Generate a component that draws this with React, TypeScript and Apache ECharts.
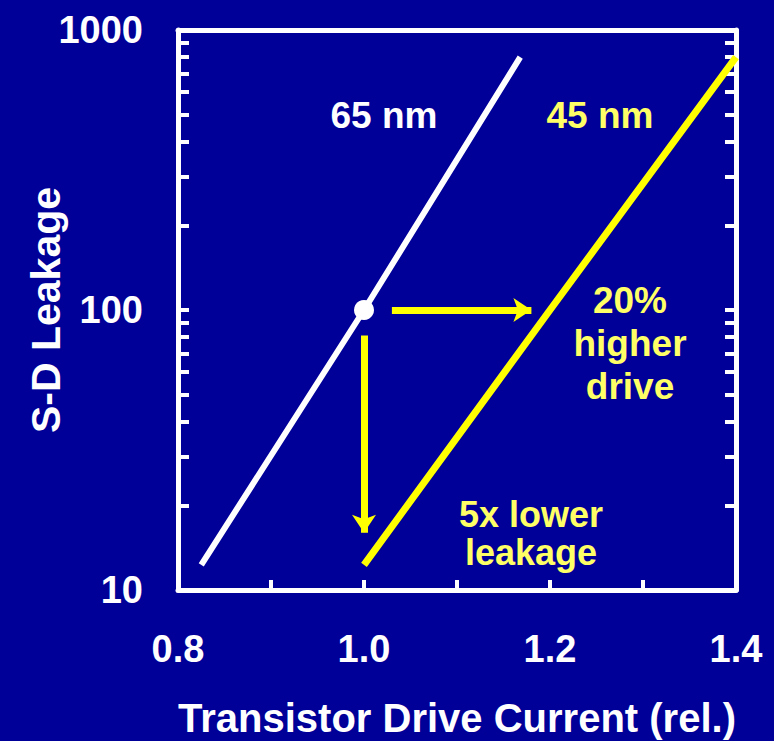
import React, { useEffect, useRef } from "react";
import * as echarts from "echarts";

// ---- data ----
const node65: [number, number][] = [
  [0.825, 12.3],
  [1.0, 100],
  [1.168, 800],
];
const node45: [number, number][] = [
  [1.0, 12.3],
  [1.2, 100],
  [1.4, 800],
];
const referencePoint: [number, number][] = [[1.0, 100]];
const driveArrow: [number, number][] = [
  [1.03, 100],
  [1.18, 100],
];
const leakageArrow: [number, number][] = [
  [1.0, 81],
  [1.0, 16],
];
const yTickValues = [
  10, 20, 30, 40, 50, 60, 70, 80, 90, 100, 200, 300, 400, 500, 600, 700, 800, 900, 1000,
];
const yLabelValues = [10, 100, 1000];
const xTickValues = [0.9, 1.0, 1.1, 1.2, 1.3];
const xLabelValues = [0.8, 1.0, 1.2, 1.4];

const FONT = "'Liberation Sans', Arial, sans-serif";
const BG = "#000099";
const WHITE = "#ffffff";
const YELLOW = "#ffff00";
const PALE_YELLOW = "#ffff66";

export default function App() {
  const ref = useRef<HTMLDivElement>(null);

  useEffect(() => {
    document.body.style.margin = "0";
    const chart = echarts.init(ref.current!, null, { renderer: "svg" });
    const axisLine = { show: true, lineStyle: { color: WHITE, width: 5 } };
    const tickStyle = { color: WHITE, width: 4 };
    chart.setOption({
      animation: false,
      backgroundColor: BG,
      grid: {
        left: 178,
        right: 38,
        top: 30,
        bottom: 151,
        containLabel: false,
        outerBoundsMode: "none",
      },
      xAxis: [
        {
          type: "value",
          min: 0.8,
          max: 1.4,
          interval: 0.1,
          axisLine,
          splitLine: { show: false },
          axisTick: {
            show: true,
            inside: true,
            length: 10,
            lineStyle: tickStyle,
            customValues: xTickValues,
          },
          axisLabel: {
            color: WHITE,
            fontFamily: FONT,
            fontSize: 38,
            fontWeight: "bold",
            margin: 40,
            customValues: xLabelValues,
            formatter: (v: number) => v.toFixed(1),
          },
          name: "Transistor Drive Current (rel.)",
          nameLocation: "middle",
          nameGap: 108,
          nameMoveOverlap: false,
          nameTextStyle: {
            color: WHITE,
            fontFamily: FONT,
            fontSize: 40,
            fontWeight: "bold",
          },
        },
        {
          type: "value",
          position: "top",
          min: 0.8,
          max: 1.4,
          axisLine,
          axisTick: { show: false },
          axisLabel: { show: false },
          splitLine: { show: false },
        },
      ],
      yAxis: [
        {
          type: "log",
          logBase: 10,
          min: 10,
          max: 1000,
          axisLine,
          splitLine: { show: false },
          minorTick: { show: false },
          axisTick: {
            show: true,
            inside: true,
            length: 11,
            lineStyle: tickStyle,
            customValues: yTickValues,
          },
          axisLabel: {
            color: WHITE,
            fontFamily: FONT,
            fontSize: 38,
            fontWeight: "bold",
            margin: 35,
            customValues: yLabelValues,
            formatter: (v: number) => String(Math.round(v)),
          },
          name: "S-D Leakage",
          nameLocation: "middle",
          nameGap: 112,
          nameMoveOverlap: false,
          nameTextStyle: {
            color: WHITE,
            fontFamily: FONT,
            fontSize: 41,
            fontWeight: "bold",
          },
        },
        {
          type: "log",
          logBase: 10,
          min: 10,
          max: 1000,
          position: "right",
          axisLine,
          splitLine: { show: false },
          axisTick: {
            show: true,
            inside: true,
            length: 11,
            lineStyle: tickStyle,
            customValues: yTickValues,
          },
          axisLabel: { show: false },
        },
      ],
      series: [
        {
          name: "65 nm",
          type: "line",
          data: node65,
          showSymbol: false,
          lineStyle: { color: WHITE, width: 6 },
          silent: true,
        },
        {
          name: "45 nm",
          type: "line",
          data: node45,
          showSymbol: false,
          lineStyle: { color: YELLOW, width: 7 },
          silent: true,
          markLine: {
            silent: true,
            symbol: ["none", "arrow"],
            symbolSize: 18,
            label: { show: false },
            lineStyle: { color: YELLOW, width: 7, type: "solid" },
            data: [
              [{ coord: driveArrow[0] }, { coord: driveArrow[1] }],
              [{ coord: leakageArrow[0] }, { coord: leakageArrow[1] }],
            ],
          },
        },
        {
          type: "scatter",
          data: referencePoint,
          symbol: "circle",
          symbolSize: 20,
          itemStyle: { color: WHITE, opacity: 1 },
          silent: true,
        },
      ],
      graphic: [
        {
          type: "text",
          x: 384,
          y: 115,
          style: {
            text: "65 nm",
            fill: WHITE,
            font: `bold 37px ${FONT}`,
            align: "center",
            verticalAlign: "middle",
          },
        },
        {
          type: "text",
          x: 600,
          y: 115,
          style: {
            text: "45 nm",
            fill: PALE_YELLOW,
            font: `bold 37px ${FONT}`,
            align: "center",
            verticalAlign: "middle",
          },
        },
        {
          type: "text",
          x: 630,
          y: 343,
          style: {
            text: "20%\nhigher\ndrive",
            fill: PALE_YELLOW,
            font: `bold 37px ${FONT}`,
            lineHeight: 43,
            align: "center",
            verticalAlign: "middle",
          },
        },
        {
          type: "text",
          x: 531,
          y: 533,
          style: {
            text: "5x lower\nleakage",
            fill: PALE_YELLOW,
            font: `bold 36px ${FONT}`,
            lineHeight: 38,
            align: "center",
            verticalAlign: "middle",
          },
        },
      ],
    });
    return () => chart.dispose();
  }, []);

  return <div ref={ref} style={{ width: 774, height: 741 }} />;
}
